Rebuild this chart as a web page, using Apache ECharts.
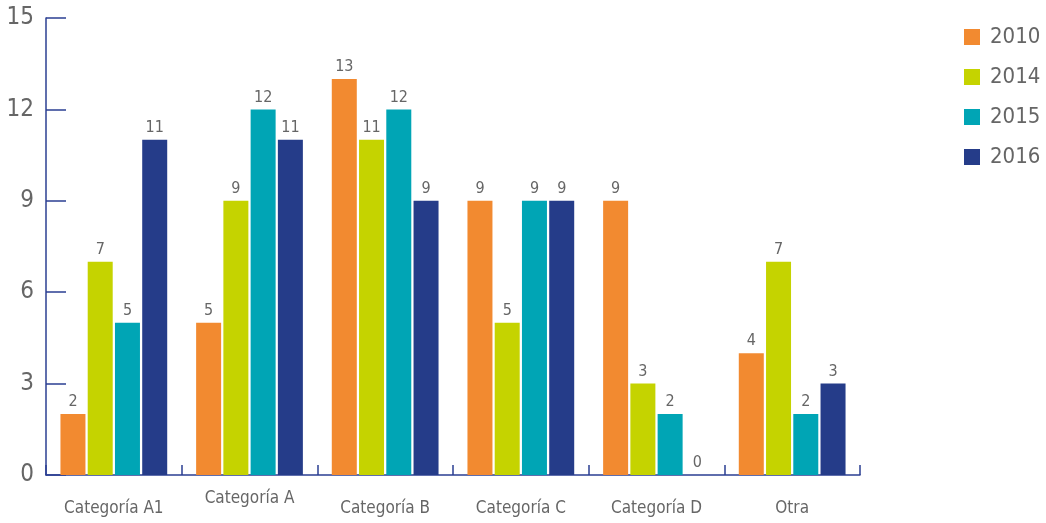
<!DOCTYPE html>
<html>
<head>
<meta charset="utf-8">
<script src="https://cdn.jsdelivr.net/npm/echarts@6/dist/echarts.min.js"></script>
<style>
  html, body { margin: 0; padding: 0; background: #fff; }
  #chart { width: 1046px; height: 523px; }
</style>
</head>
<body>
<div id="chart"></div>
<script>
// Categories and yearly values
const categories = ['Categoría A1', 'Categoría A', 'Categoría B', 'Categoría C', 'Categoría D', 'Otra'];
const years = ['2010', '2014', '2015', '2016'];
const values2010 = [2, 5, 13, 9, 9, 4];
const values2014 = [7, 9, 11, 5, 3, 7];
const values2015 = [5, 12, 12, 9, 2, 2];
const values2016 = [11, 11, 9, 9, 0, 3];
const yTicks = [0, 3, 6, 9, 12, 15];

const colors = ['#F28A30', '#C5D300', '#00A5B5', '#253C89'];
const seriesValues = [values2010, values2014, values2015, values2016];
const fontFam = '"DejaVu Sans Condensed", "Liberation Sans", sans-serif';
const axisColor = '#2B3F92';
const textColor = '#666666';

const chart = echarts.init(document.getElementById('chart'), null, { renderer: 'canvas' });

chart.setOption({
  animation: false,
  color: colors,
  textStyle: { fontFamily: fontFam },
  grid: { left: 46, right: 186, top: 18, bottom: 48, containLabel: false },
  legend: {
    orient: 'vertical',
    left: 959,
    top: 21,
    itemWidth: 16,
    itemHeight: 16,
    itemGap: 18,
    icon: 'rect',
    data: years,
    textStyle: { fontSize: 22, color: textColor, fontFamily: fontFam, padding: [0, 0, 0, 5] }
  },
  xAxis: {
    type: 'category',
    // the second category label sits a little higher than the rest
    data: categories.map((c, i) => i === 1
      ? { value: c, textStyle: { padding: [0, 0, 0, 0] } }
      : { value: c, textStyle: { padding: [10, 0, 0, 0] } }),
    axisLine: { lineStyle: { color: axisColor, width: 1.5 } },
    axisTick: { show: true, inside: true, length: 10, lineStyle: { color: axisColor, width: 1.5 } },
    axisLabel: { color: textColor, fontSize: 17, margin: 15, fontFamily: fontFam, interval: 0 }
  },
  yAxis: {
    type: 'value',
    min: yTicks[0],
    max: yTicks[yTicks.length - 1],
    interval: 3,
    splitLine: { show: false },
    axisLine: { show: true, lineStyle: { color: axisColor, width: 1.5 } },
    axisTick: { show: true, inside: true, length: 20, lineStyle: { color: axisColor, width: 1.5 } },
    axisLabel: { color: textColor, fontSize: 24, margin: 12, fontFamily: fontFam }
  },
  series: years.map((y, i) => ({
    name: y,
    type: 'bar',
    data: seriesValues[i],
    barWidth: 25,
    barGap: '9%',
    itemStyle: { color: colors[i] },
    label: {
      show: true,
      position: 'top',
      distance: 4,
      color: textColor,
      fontSize: 16,
      fontFamily: fontFam
    }
  }))
});
</script>
</body>
</html>
